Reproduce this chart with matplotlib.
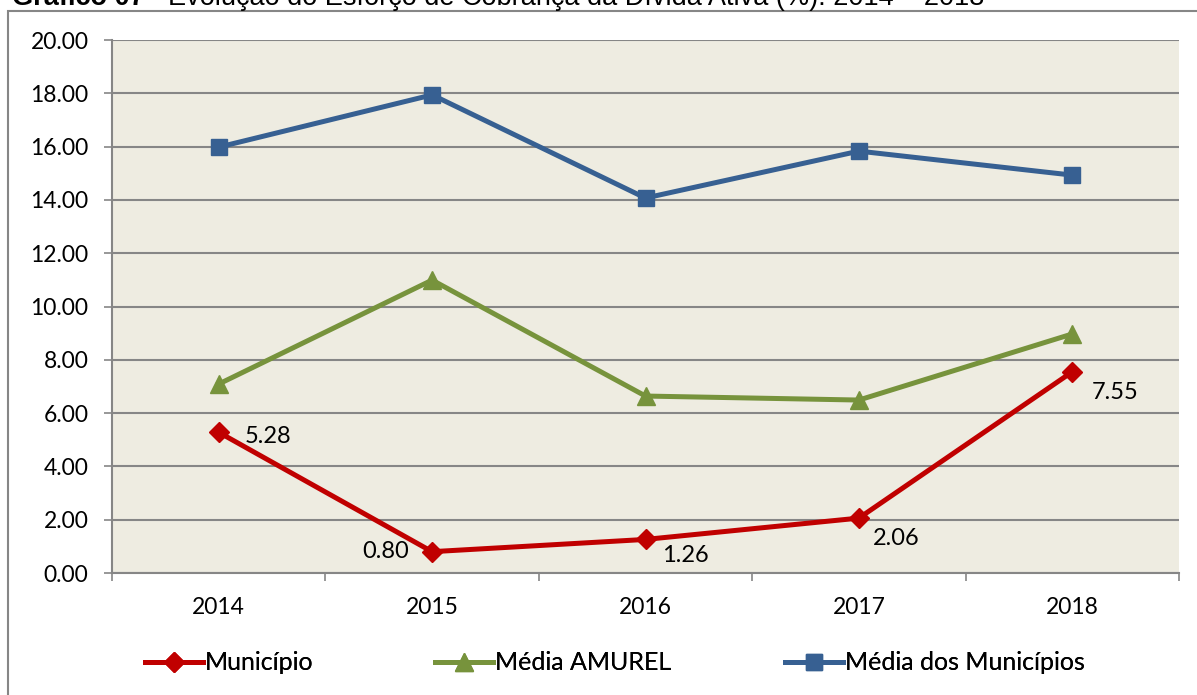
import matplotlib
matplotlib.use("Agg")
import matplotlib.pyplot as plt
from matplotlib.patches import Rectangle

years = ["2014", "2015", "2016", "2017", "2018"]
municipio = [5.28, 0.80, 1.26, 2.06, 7.55]
media_amurel = [7.09, 10.99, 6.64, 6.49, 8.97]
media_municipios = [15.98, 17.94, 14.07, 15.83, 14.93]
label_text = ["5.28", "0.80", "1.26", "2.06", "7.55"]
yticks = [0, 2, 4, 6, 8, 10, 12, 14, 16, 18, 20]

W, H = 1197, 695
fig = plt.figure(figsize=(W / 100, H / 100), dpi=100)
plt.rcParams['font.family'] = ['Lato', 'DejaVu Sans']

grey = "#868686"

# outer frame (partly cut off at right and bottom)
fig.patches.append(Rectangle((8 / W, 0 - 0.01), 1.2, 1 - 11 / H + 0.01,
                             transform=fig.transFigure, fill=False,
                             edgecolor=grey, linewidth=1.5))

# title, cut off at the top in the reference
fig.text(12 / W, 1 - 5 / H, "Gráfico 07", fontsize=19.5, fontweight="bold",
         family="Liberation Sans", va="baseline")
fig.text(148 / W, 1 - 5 / H, "–", fontsize=19.5, family="Liberation Sans",
         va="baseline")
fig.text(168 / W, 1 - 5 / H,
         "Evolução do Esforço de Cobrança da Dívida Ativa (%): 2014 – 2018",
         fontsize=19.5, family="Liberation Sans", va="baseline")

ax = fig.add_axes([112 / W, 1 - 573 / H, (1179 - 112) / W, (573 - 40) / H])
ax.set_facecolor("#EEECE1")

x = list(range(len(years)))
l1, = ax.plot(x, municipio, color="#C00000", lw=3.6, marker="D", ms=10,
              label="Município", zorder=5)
l2, = ax.plot(x, media_amurel, color="#77933C", lw=3.6, marker="^", ms=13,
              label="Média AMUREL", zorder=4)
l3, = ax.plot(x, media_municipios, color="#376092", lw=3.6, marker="s", ms=11,
              label="Média dos Municípios", zorder=3)

offsets = [(49, -4), (-46, 0), (40, -16), (37, -20), (43, -21)]
for i, (v, s) in enumerate(zip(municipio, label_text)):
    ax.annotate(s, (i, v), xytext=offsets[i], textcoords="offset pixels",
                ha="center", va="center", fontsize=17, color="black")

ax.set_xlim(-0.5, 4.5)
ax.set_ylim(0, 20)
ax.set_yticks(yticks)
ax.set_yticklabels([f"{v:.2f}" for v in yticks])
ax.yaxis.grid(True, color=grey, lw=1.5)
ax.set_axisbelow(True)

ax.set_xticks([i - 0.5 for i in range(len(years) + 1)])
ax.set_xticklabels([])
ax.set_xticks(x, minor=True)
ax.set_xticklabels(years, minor=True)
ax.tick_params(axis="x", which="minor", length=0, pad=17, labelsize=16.5)
ax.tick_params(axis="x", which="major", length=6, color=grey, width=1.2,
               direction="out")
ax.tick_params(axis="y", length=6, color=grey, width=1.2, pad=11,
               labelsize=16.5)

for side in ["top", "right"]:
    ax.spines[side].set_visible(False)
for side in ["left", "bottom"]:
    ax.spines[side].set_color(grey)
    ax.spines[side].set_linewidth(1.5)

# legend entries placed one by one like the original
for line, xpos in [(l1, 145), (l2, 435), (l3, 785)]:
    leg = fig.legend(handles=[line], loc="center left",
                     bbox_to_anchor=(xpos / W, 1 - 663 / H), frameon=False,
                     fontsize=18, handlelength=2.3, handletextpad=0.1,
                     borderaxespad=0, borderpad=0)
    fig.add_artist(leg)

fig.savefig("out.png", dpi=100)
